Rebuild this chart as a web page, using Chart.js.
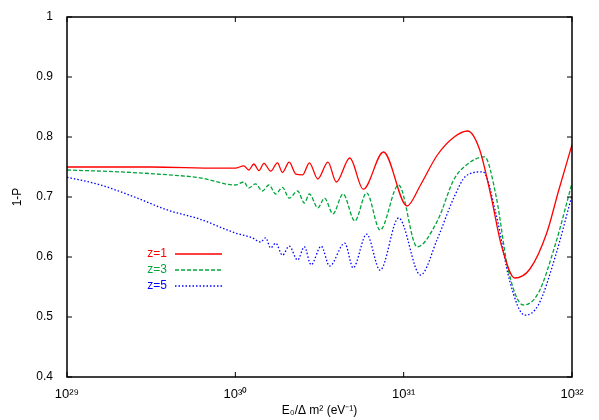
<!DOCTYPE html>
<html>
<head>
<meta charset="utf-8">
<script src="https://cdn.jsdelivr.net/npm/chart.js@4/dist/chart.umd.min.js"></script>
<style>
  html, body { margin: 0; padding: 0; background: #fff; }
  #wrap { width: 599px; height: 420px; }
</style>
</head>
<body>
<div id="wrap"><canvas id="c"></canvas></div>
<script>
// x values are log10(E0 / dm^2)
const redX = [29, 29.5, 29.9, 30.0, 30.05, 30.08, 30.11, 30.14, 30.17, 30.21, 30.25, 30.28, 30.32, 30.36, 30.40, 30.44, 30.49, 30.55, 30.60, 30.68, 30.76, 30.88, 31.02, 31.1, 31.2, 31.3, 31.38, 31.45, 31.52, 31.58, 31.66, 31.75, 31.85, 31.92, 32];
const redY = [0.75, 0.75, 0.748, 0.748, 0.752, 0.745, 0.755, 0.744, 0.756, 0.743, 0.757, 0.741, 0.758, 0.738, 0.737, 0.757, 0.73, 0.758, 0.725, 0.765, 0.713, 0.775, 0.685, 0.72, 0.77, 0.8, 0.81, 0.78, 0.7, 0.62, 0.565, 0.58, 0.64, 0.71, 0.787];

const greenX = [29, 29.3, 29.6, 29.79, 30, 30.05, 30.08, 30.12, 30.16, 30.2, 30.24, 30.28, 30.32, 30.37, 30.41, 30.44, 30.49, 30.53, 30.58, 30.64, 30.71, 30.78, 30.86, 30.97, 31.08, 31.2, 31.3, 31.38, 31.48, 31.55, 31.62, 31.71, 31.8, 31.9, 32];
const greenY = [0.745, 0.742, 0.737, 0.732, 0.72, 0.725, 0.715, 0.722, 0.71, 0.72, 0.705, 0.716, 0.698, 0.71, 0.69, 0.705, 0.682, 0.698, 0.672, 0.705, 0.66, 0.707, 0.645, 0.72, 0.617, 0.66, 0.73, 0.755, 0.767, 0.7, 0.58, 0.52, 0.54, 0.62, 0.723];

const blueX = [29, 29.2, 29.4, 29.6, 29.79, 30, 30.1, 30.15, 30.18, 30.21, 30.24, 30.28, 30.32, 30.37, 30.41, 30.45, 30.51, 30.56, 30.65, 30.7, 30.78, 30.86, 30.97, 31.1, 31.2, 31.3, 31.37, 31.47, 31.55, 31.63, 31.72, 31.8, 31.9, 32];
const blueY = [0.733, 0.72, 0.7, 0.678, 0.663, 0.64, 0.632, 0.625, 0.632, 0.615, 0.623, 0.603, 0.618, 0.595, 0.617, 0.587, 0.618, 0.585, 0.623, 0.582, 0.638, 0.578, 0.665, 0.57, 0.63, 0.7, 0.735, 0.742, 0.67, 0.56, 0.503, 0.52, 0.6, 0.703];

const labels = ["z=1", "z=3", "z=5"];
const xTicks = ["10²⁹", "10³⁰", "10³¹", "10³²"];
const yTicks = ["0.4", "0.5", "0.6", "0.7", "0.8", "0.9", "1"];

const toPts = (xs, ys) => xs.map((x, i) => ({ x: x, y: ys[i] }));
const font = { family: "Liberation Sans, Arial, sans-serif", size: 12 };

const frame = {
  id: "frame",
  afterDraw(chart) {
    const { ctx, chartArea: a, scales } = chart;
    ctx.save();
    ctx.strokeStyle = "#000";
    ctx.lineWidth = 1.5;
    ctx.strokeRect(a.left, a.top, a.right - a.left, a.bottom - a.top);
    ctx.lineWidth = 1;
    ctx.beginPath();
    for (let v = 29; v <= 32; v++) {
      const px = scales.x.getPixelForValue(v);
      ctx.moveTo(px, a.bottom); ctx.lineTo(px, a.bottom - 5);
      ctx.moveTo(px, a.top); ctx.lineTo(px, a.top + 5);
    }
    for (let i = 0; i < yTicks.length; i++) {
      const py = scales.y.getPixelForValue(parseFloat(yTicks[i]));
      ctx.moveTo(a.left, py); ctx.lineTo(a.left + 5, py);
      ctx.moveTo(a.right, py); ctx.lineTo(a.right - 5, py);
    }
    ctx.stroke();
    // legend
    ctx.font = "12px " + font.family;
    ctx.textAlign = "right";
    ctx.textBaseline = "middle";
    chart.data.datasets.forEach((ds, i) => {
      const y = 254 + i * 16;
      ctx.fillStyle = ds.borderColor;
      ctx.fillText(ds.label, 167, y);
      ctx.strokeStyle = ds.borderColor;
      ctx.lineWidth = 1.3;
      ctx.setLineDash(ds.borderDash || []);
      ctx.beginPath();
      ctx.moveTo(175, y); ctx.lineTo(222, y);
      ctx.stroke();
    });
    ctx.restore();
  }
};

new Chart(document.getElementById("c"), {
  type: "line",
  data: {
    datasets: [
      { label: labels[0], data: toPts(redX, redY), borderColor: "#ff0000", borderWidth: 1.3, pointRadius: 0, cubicInterpolationMode: "monotone" },
      { label: labels[1], data: toPts(greenX, greenY), borderColor: "#00a63c", borderWidth: 1.3, borderDash: [4, 2], pointRadius: 0, cubicInterpolationMode: "monotone" },
      { label: labels[2], data: toPts(blueX, blueY), borderColor: "#0000ff", borderWidth: 1.3, borderDash: [1.5, 2], pointRadius: 0, cubicInterpolationMode: "monotone" },
    ],
  },
  options: {
    responsive: true,
    maintainAspectRatio: false,
    animation: false,
    layout: { padding: { top: 17, right: 27, left: 0, bottom: 0 } },
    plugins: { legend: { display: false }, tooltip: { enabled: false } },
    scales: {
      x: {
        type: "linear", min: 29, max: 32,
        grid: { display: false }, border: { display: false },
        afterBuildTicks: (ax) => { ax.ticks = [29, 30, 31, 32].map((v) => ({ value: v })); },
        ticks: { color: "#000", font: { family: font.family, size: 13 }, maxRotation: 0, padding: 2, callback: (v) => xTicks[v - 29] },
        title: { display: true, text: "E₀/Δ m² (eV⁻¹)", color: "#000", font: font, padding: 2 },
        afterFit: (ax) => { ax.height = 43; },
      },
      y: {
        min: 0.4, max: 1,
        grid: { display: false }, border: { display: false },
        afterBuildTicks: (ax) => { ax.ticks = yTicks.map((t) => ({ value: parseFloat(t) })); },
        ticks: { color: "#000", font: font, padding: 6, callback: (v, i) => yTicks[i] },
        title: { display: true, text: "1-P", color: "#000", font: font, padding: { top: 10, bottom: 0 } },
        afterFit: (ax) => { ax.width = 67; },
      },
    },
  },
  plugins: [frame],
});
</script>
</body>
</html>
